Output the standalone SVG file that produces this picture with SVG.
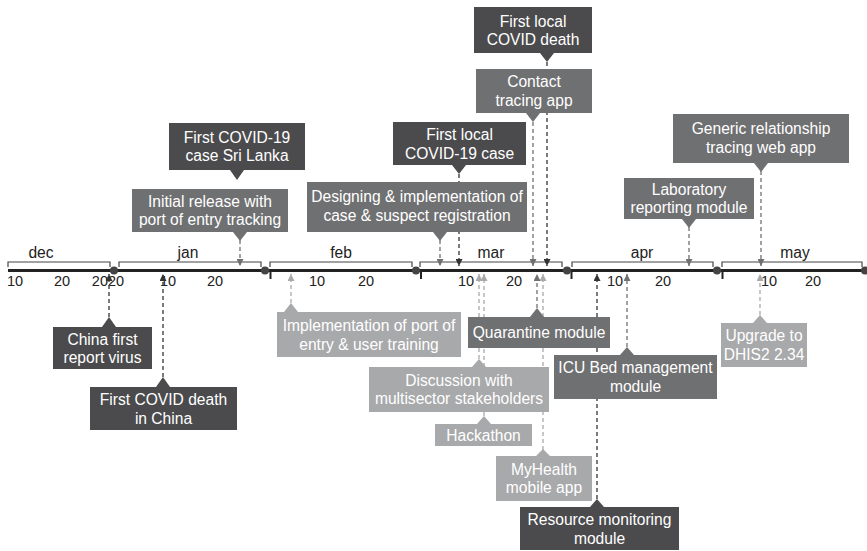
<svg xmlns="http://www.w3.org/2000/svg" width="867" height="551" viewBox="0 0 867 551">
  <style>
    text { font-family: "Liberation Sans", Arial, sans-serif; }
    .lbl { font-size: 15.6px; fill: #ffffff; text-anchor: middle; }
    .tick { font-size: 14.5px; fill: #222222; text-anchor: middle; }
    .month { font-size: 15.6px; fill: #222222; text-anchor: middle; }
    .dark { fill: #4b4b4d; }
    .mid { fill: #6f7072; }
    .light { fill: #a8a9ab; }
    .conn { fill: none; stroke-width: 1.3; stroke-dasharray: 4 3; }
    .c-dark { stroke: #333333; marker-end: url(#ah-dark); }
    .c-mid { stroke: #6f7072; marker-end: url(#ah-mid); }
    .c-light { stroke: #a8a9ab; marker-end: url(#ah-light); }
    .bracket { fill: none; stroke: #444444; stroke-width: 1.2; }
  </style>
  <defs>
    <marker id="ah-dark" viewBox="0 0 8 8" refX="8" refY="4" markerWidth="7" markerHeight="7" markerUnits="userSpaceOnUse" orient="auto">
      <path d="M0,0 L8,4 L0,8 z" fill="#333333"/>
    </marker>
    <marker id="ah-mid" viewBox="0 0 8 8" refX="8" refY="4" markerWidth="7" markerHeight="7" markerUnits="userSpaceOnUse" orient="auto">
      <path d="M0,0 L8,4 L0,8 z" fill="#6f7072"/>
    </marker>
    <marker id="ah-light" viewBox="0 0 8 8" refX="8" refY="4" markerWidth="7" markerHeight="7" markerUnits="userSpaceOnUse" orient="auto">
      <path d="M0,0 L8,4 L0,8 z" fill="#a8a9ab"/>
    </marker>
  </defs>

  <rect width="867" height="551" fill="#ffffff"/>

  <!-- time axis -->
  <g id="axis">
    <path class="bracket" d="M8 267V262H110V267"/>
    <path class="bracket" d="M119 267V262H261V267"/>
    <path class="bracket" d="M270 267V262H412V267"/>
    <path class="bracket" d="M420 267V262H562V267"/>
    <path class="bracket" d="M572 267V262H713V267"/>
    <path class="bracket" d="M722 267V262H862V267"/>
    <text class="month" x="41" y="258">dec</text>
    <text class="month" x="188" y="258">jan</text>
    <text class="month" x="341" y="258">feb</text>
    <text class="month" x="491" y="258">mar</text>
    <text class="month" x="642" y="258">apr</text>
    <text class="month" x="795" y="258">may</text>
    <line x1="8" y1="270.5" x2="867" y2="270.5" stroke="#222222" stroke-width="3"/>
    <g stroke="#222222" stroke-width="2">
      <line x1="270.5" y1="270" x2="270.5" y2="279"/>
      <line x1="421" y1="270" x2="421" y2="279"/>
      <line x1="571.5" y1="270" x2="571.5" y2="279"/>
      <line x1="722.5" y1="270" x2="722.5" y2="279"/>
    </g>
    <g fill="#444444">
      <circle cx="114" cy="270.5" r="4"/>
      <circle cx="265" cy="270.5" r="4"/>
      <circle cx="416" cy="270.5" r="4"/>
      <circle cx="567" cy="270.5" r="4"/>
      <circle cx="717" cy="270.5" r="4"/>
      <circle cx="865" cy="270.5" r="4"/>
    </g>
    <text class="tick" x="15" y="286">10</text>
    <text class="tick" x="62" y="286">20</text>
    <text class="tick" x="108" y="286">2020</text>
    <text class="tick" x="168" y="286">10</text>
    <text class="tick" x="215" y="286">20</text>
    <text class="tick" x="317" y="286">10</text>
    <text class="tick" x="366" y="286">20</text>
    <text class="tick" x="466" y="286">10</text>
    <text class="tick" x="514" y="286">20</text>
    <text class="tick" x="615" y="286">10</text>
    <text class="tick" x="663" y="286">20</text>
    <text class="tick" x="769" y="286">10</text>
    <text class="tick" x="813" y="286">20</text>
  </g>

  <!-- dashed leaders from each event to its date -->
  <g id="connectors">
    <line class="conn c-mid" x1="240" y1="240" x2="240" y2="266"/>
    <line class="conn c-mid" x1="440" y1="240" x2="440" y2="266"/>
    <line class="conn c-dark" x1="459" y1="174" x2="459" y2="266"/>
    <line class="conn c-mid" x1="533" y1="122" x2="533" y2="266"/>
    <line class="conn c-dark" x1="547" y1="62" x2="547" y2="266"/>
    <line class="conn c-mid" x1="689" y1="227" x2="689" y2="266"/>
    <line class="conn c-mid" x1="761" y1="171" x2="761" y2="266"/>

    <line class="conn c-dark" x1="109" y1="317" x2="109" y2="274"/>
    <line class="conn c-dark" x1="163" y1="377" x2="163" y2="274"/>
    <line class="conn c-light" x1="291" y1="303" x2="291" y2="274"/>
    <line class="conn c-mid" x1="537" y1="308" x2="537" y2="274"/>
    <line class="conn c-light" x1="479" y1="359" x2="479" y2="274"/>
    <line class="conn c-light" x1="484" y1="416" x2="484" y2="274"/>
    <line class="conn c-light" x1="543" y1="450" x2="543" y2="274"/>
    <line class="conn c-mid" x1="627" y1="347" x2="627" y2="274"/>
    <line class="conn c-dark" x1="597" y1="499" x2="597" y2="274"/>
    <line class="conn c-light" x1="760" y1="315" x2="760" y2="274"/>
  </g>

  <!-- events above the axis -->
  <g id="sl-first-case">
    <rect class="dark" x="169" y="123" width="136" height="47"/>
    <polygon class="dark" points="230,170 244,170 237,180"/>
    <text class="lbl" x="237" y="142.5">First COVID-19</text>
    <text class="lbl" x="237" y="161">case Sri Lanka</text>
  </g>
  <g id="initial-release">
    <rect class="mid" x="132" y="189" width="156" height="43"/>
    <polygon class="mid" points="233,232 247,232 240,241"/>
    <text class="lbl" x="210" y="207">Initial release with</text>
    <text class="lbl" x="210" y="225">port of entry tracking</text>
  </g>
  <g id="case-registration">
    <rect class="mid" x="307" y="182" width="220" height="50"/>
    <polygon class="mid" points="433,232 447,232 440,241"/>
    <text class="lbl" x="417" y="202">Designing &amp; implementation of</text>
    <text class="lbl" x="417" y="220.5">case &amp; suspect registration</text>
  </g>
  <g id="first-local-case">
    <rect class="dark" x="393" y="122" width="133" height="43"/>
    <polygon class="dark" points="452,165 466,165 459,174"/>
    <text class="lbl" x="459.5" y="140">First local</text>
    <text class="lbl" x="459.5" y="158.5">COVID-19 case</text>
  </g>
  <g id="contact-tracing">
    <rect class="mid" x="476" y="69" width="116" height="44"/>
    <polygon class="mid" points="526,113 540,113 533,122"/>
    <text class="lbl" x="534" y="87">Contact</text>
    <text class="lbl" x="534" y="105.5">tracing app</text>
  </g>
  <g id="first-local-death">
    <rect class="dark" x="474" y="7" width="118" height="46"/>
    <polygon class="dark" points="540,53 554,53 547,62"/>
    <text class="lbl" x="533" y="26.5">First local</text>
    <text class="lbl" x="533" y="45">COVID death</text>
  </g>
  <g id="lab-reporting">
    <rect class="mid" x="624" y="178" width="130" height="41"/>
    <polygon class="mid" points="682,219 696,219 689,228"/>
    <text class="lbl" x="689" y="195">Laboratory</text>
    <text class="lbl" x="689" y="213">reporting module</text>
  </g>
  <g id="relationship-tracing">
    <rect class="mid" x="673" y="114" width="176" height="49"/>
    <polygon class="mid" points="754,163 768,163 761,172"/>
    <text class="lbl" x="761" y="134">Generic relationship</text>
    <text class="lbl" x="761" y="152.5">tracing web app</text>
  </g>

  <!-- events below the axis -->
  <g id="china-first-report">
    <rect class="dark" x="53" y="327" width="99" height="42"/>
    <polygon class="dark" points="102,327 116,327 109,317"/>
    <text class="lbl" x="102.5" y="344.5">China first</text>
    <text class="lbl" x="102.5" y="363">report virus</text>
  </g>
  <g id="china-first-death">
    <rect class="dark" x="90" y="387" width="147" height="43"/>
    <polygon class="dark" points="156,387 170,387 163,377"/>
    <text class="lbl" x="163.5" y="405">First COVID death</text>
    <text class="lbl" x="163.5" y="423.5">in China</text>
  </g>
  <g id="port-of-entry">
    <rect class="light" x="277" y="312" width="184" height="45"/>
    <polygon class="light" points="284,312 298,312 291,303"/>
    <text class="lbl" x="369" y="331">Implementation of port of</text>
    <text class="lbl" x="369" y="349.5">entry &amp; user training</text>
  </g>
  <g id="quarantine">
    <rect class="mid" x="468" y="317" width="142" height="31"/>
    <polygon class="mid" points="530,317 544,317 537,308"/>
    <text class="lbl" x="539" y="338">Quarantine module</text>
  </g>
  <g id="stakeholders">
    <rect class="light" x="369" y="367" width="180" height="45"/>
    <polygon class="light" points="472,367 486,367 479,359"/>
    <text class="lbl" x="459" y="385.5">Discussion with</text>
    <text class="lbl" x="459" y="404">multisector stakeholders</text>
  </g>
  <g id="hackathon">
    <rect class="light" x="435" y="424" width="97" height="22"/>
    <polygon class="light" points="477,424 491,424 484,416"/>
    <text class="lbl" x="483.5" y="440.5">Hackathon</text>
  </g>
  <g id="myhealth">
    <rect class="light" x="496" y="456" width="96" height="45"/>
    <polygon class="light" points="536,456 550,456 543,449"/>
    <text class="lbl" x="544" y="474.5">MyHealth</text>
    <text class="lbl" x="544" y="493">mobile app</text>
  </g>
  <g id="icu-beds">
    <rect class="mid" x="554" y="355" width="163" height="44"/>
    <polygon class="mid" points="620,355 634,355 627,347"/>
    <text class="lbl" x="635.5" y="373">ICU Bed management</text>
    <text class="lbl" x="635.5" y="391.5">module</text>
  </g>
  <g id="resource-monitoring">
    <rect class="dark" x="520" y="507" width="159" height="43"/>
    <polygon class="dark" points="590,507 604,507 597,499"/>
    <text class="lbl" x="599.5" y="525">Resource monitoring</text>
    <text class="lbl" x="599.5" y="543.5">module</text>
  </g>
  <g id="dhis2-upgrade">
    <rect class="light" x="721" y="323" width="86" height="44"/>
    <polygon class="light" points="753,323 767,323 760,315"/>
    <text class="lbl" x="764" y="341">Upgrade to</text>
    <text class="lbl" x="764" y="359.5">DHIS2 2.34</text>
  </g>
</svg>
